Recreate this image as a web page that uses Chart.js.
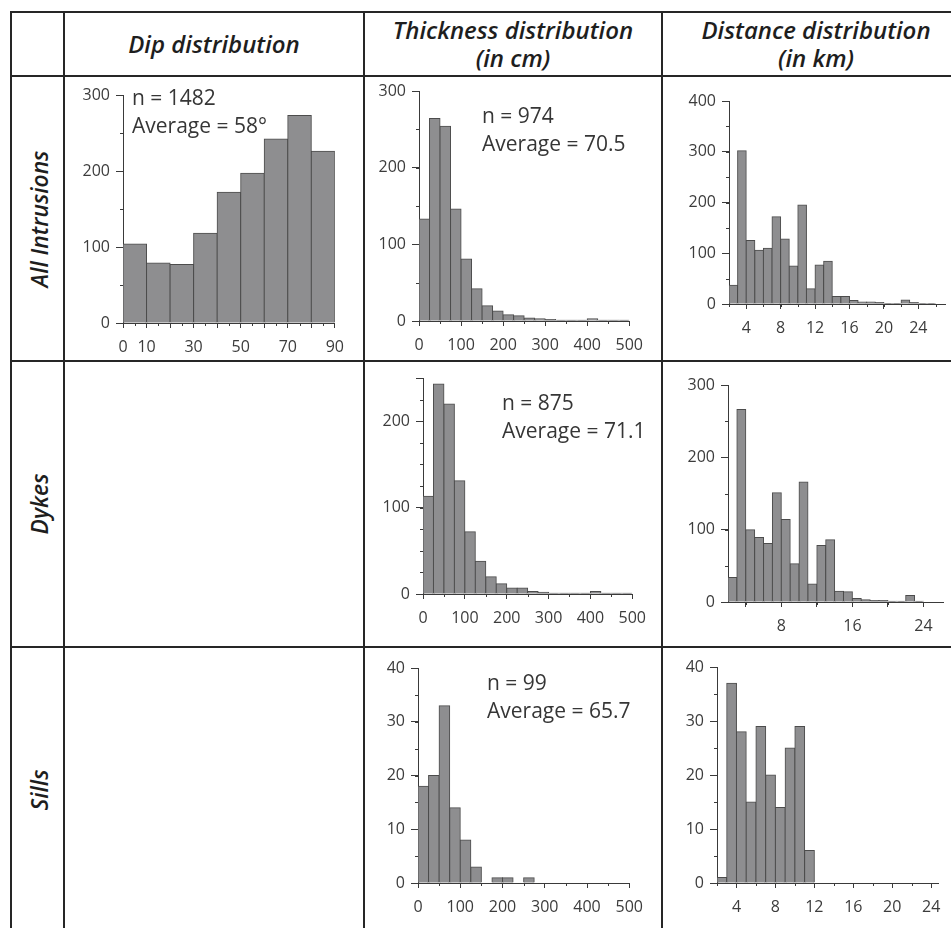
<!DOCTYPE html>
<html>
<head>
<meta charset="utf-8">
<title>Intrusion distributions</title>
<script src="https://cdn.jsdelivr.net/npm/chart.js@4.4.1/dist/chart.umd.min.js"></script>
<style>
  html, body { margin: 0; padding: 0; overflow: hidden; background: #fff; }
  #sheet { position: relative; width: 951px; height: 928px; overflow: hidden; font-family: "Open Sans", sans-serif; }
  .rule { position: absolute; background: #262626; }
  .head { position: absolute; display: flex; flex-direction: column; align-items: center; justify-content: center;
          font-style: italic; font-weight: 600; font-size: 24px; line-height: 28px; color: #1e1e1e; }
  .head span { display: block; white-space: nowrap; }
  .side { position: absolute; white-space: nowrap; font-style: italic; font-weight: 600; font-size: 24px; color: #1e1e1e;
          transform: translate(-50%, -50%) rotate(-90deg) scaleX(0.95); }
  .note { position: absolute; font-size: 21px; line-height: 29px; color: #363636; white-space: nowrap; }
  canvas { position: absolute; }
</style>
</head>
<body>
<div id="sheet"></div>
<script>
// column headers and row names
const HEADERS = [["Dip distribution"], ["Thickness distribution", "(in cm)"], ["Distance distribution", "(in km)"]];
const ROWS = ["All Intrusions", "Dykes", "Sills"];

// dip (degrees), 10 degree bins
const DIP_BINS = [0, 10, 20, 30, 40, 50, 60, 70, 80];
const DIP_ALL = [104, 79, 77, 118, 172, 197, 242, 273, 226];

// thickness (cm), 25 cm bins
const THICK_BINS = [0, 25, 50, 75, 100, 125, 150, 175, 200, 225, 250, 275, 300, 325, 350, 375, 400, 425, 450, 475];
const THICK_ALL   = [133, 264, 254, 146, 81, 42, 20, 13, 8, 7, 4, 3, 2, 1, 1, 1, 3, 1, 1, 1];
const THICK_DYKES = [113, 243, 220, 131, 72, 38, 20, 12, 7, 7, 3, 2, 1, 1, 1, 1, 3, 1, 1, 1];
const THICK_SILLS = [18, 20, 33, 14, 8, 3, 0, 1, 1, 0, 1, 0, 0, 0, 0, 0, 0, 0, 0, 0];

// distance (km), 1 km bins
const DIST_BINS = [2, 3, 4, 5, 6, 7, 8, 9, 10, 11, 12, 13, 14, 15, 16, 17, 18, 19, 20, 21, 22, 23, 24, 25];
const DIST_ALL   = [37, 302, 125, 106, 110, 172, 128, 75, 195, 30, 77, 84, 15, 15, 7, 4, 4, 3, 1, 1, 8, 3, 1, 1];
const DIST_DYKES = [34, 266, 100, 89, 81, 151, 114, 53, 166, 25, 78, 86, 15, 14, 5, 3, 2, 2, 1, 1, 9, 1, 0, 0];
const DIST_SILLS = [1, 37, 28, 15, 29, 20, 14, 25, 29, 6, 0, 0, 0, 0, 0, 0, 0, 0, 0, 0, 0, 0, 0, 0];

// tick labels shown on each x axis
const DIP_LABELS = [0, 10, 30, 50, 70, 90];
const THICK_LABELS = [0, 100, 200, 300, 400, 500];
const DIST_LABELS = [4, 8, 12, 16, 20, 24];
const DIST_LABELS_DYKES = [8, 16, 24];

const NOTES = {
  dipAll:     ["n = 1482", "Average = 58°"],
  thickAll:   ["n = 974", "Average = 70.5"],
  thickDykes: ["n = 875", "Average = 71.1"],
  thickSills: ["n = 99", "Average = 65.7"]
};

const COLS = [11, 64, 364, 662, 970];
const ROW_Y = [12, 76, 361, 647, 932];

const AXIS = "#3a3a3a";
const TEXT = "#3c3c3c";
const BAR_FILL = "#8e8e90";
const BAR_EDGE = "#4c4c4c";
const TICK_FONT = { family: "Open Sans", size: 16 };

const sheet = document.getElementById("sheet");

function box(cls, x, y, w, h) {
  const d = document.createElement("div");
  d.className = cls;
  Object.assign(d.style, { left: x + "px", top: y + "px" });
  if (w != null) d.style.width = w + "px";
  if (h != null) d.style.height = h + "px";
  sheet.appendChild(d);
  return d;
}

// table rules
COLS.forEach(x => box("rule", x - 1, ROW_Y[0] - 1, 2, 940));
ROW_Y.forEach(y => box("rule", COLS[0] - 1, y - 1, 970, 2));

HEADERS.forEach((lines, i) => {
  const h = box("head", COLS[i + 1], ROW_Y[0], COLS[i + 2] - COLS[i + 1], ROW_Y[1] - ROW_Y[0]);
  lines.forEach(t => { const s = document.createElement("span"); s.textContent = t; h.appendChild(s); });
});

ROWS.forEach((name, i) => {
  const d = box("side", (COLS[0] + COLS[1]) / 2, (ROW_Y[i + 1] + Math.min(ROW_Y[i + 2], 928)) / 2 + (i === 2 ? 2 : 0));
  d.textContent = name;
});

// short unlabelled ticks between the main ones
const minorTicks = {
  id: "minorTicks",
  afterDraw(chart, args, opts) {
    const { ctx } = chart;
    const xs = chart.scales.x, ys = chart.scales.y;
    ctx.save();
    ctx.strokeStyle = AXIS;
    ctx.lineWidth = 1;
    ctx.beginPath();
    if (opts.x) {
      for (let v = opts.x.from; v <= xs.max + 1e-9; v += opts.x.step) {
        const px = Math.round(xs.getPixelForValue(v)) + 0.5;
        ctx.moveTo(px, ys.bottom);
        ctx.lineTo(px, ys.bottom + 3);
      }
    }
    if (opts.y) {
      for (let v = 0; v <= ys.max + 1e-9; v += opts.y) {
        const py = Math.round(ys.getPixelForValue(v)) + 0.5;
        ctx.moveTo(xs.left, py);
        ctx.lineTo(xs.left - 3, py);
      }
    }
    ctx.stroke();
    ctx.restore();
  }
};

const panels = [
  { key: "dipAll", bins: DIP_BINS, binW: 10, counts: DIP_ALL, area: [123, 336, 95, 323],
    x: { min: 0, max: 90, step: 10, labels: DIP_LABELS, minor: { from: 5, step: 10 } }, y: { max: 300, step: 100, minor: 50 },
    note: [132, 97] },
  { key: "thickAll", bins: THICK_BINS, binW: 25, counts: THICK_ALL, area: [419, 635, 91, 321],
    x: { min: 0, max: 500, step: 100, labels: THICK_LABELS, minor: { from: 50, step: 100 } }, y: { max: 300, step: 100, minor: 50 },
    note: [482, 115] },
  { key: "distAll", bins: DIST_BINS, binW: 1, counts: DIST_ALL, area: [729, 945, 101, 304],
    x: { min: 2, max: 27.1, step: 4, labels: DIST_LABELS, minor: { from: 2, step: 2 } }, y: { max: 400, step: 100, minor: 50 } },
  { key: "thickDykes", bins: THICK_BINS, binW: 25, counts: THICK_DYKES, area: [423, 638, 378, 594],
    x: { min: 0, max: 500, step: 100, labels: THICK_LABELS, minor: { from: 50, step: 100 } }, y: { max: 250, step: 100, minor: 25 },
    note: [502, 402] },
  { key: "distDykes", bins: DIST_BINS, binW: 1, counts: DIST_DYKES, area: [728, 943, 385, 602],
    x: { min: 2, max: 26.2, step: 4, labels: DIST_LABELS_DYKES, minor: { from: 4, step: 4 } }, y: { max: 300, step: 100, minor: 50 } },
  { key: "thickSills", bins: THICK_BINS, binW: 25, counts: THICK_SILLS, area: [418, 635, 668, 883],
    x: { min: 0, max: 500, step: 100, labels: THICK_LABELS, minor: { from: 50, step: 100 } }, y: { max: 40, step: 10, minor: 5 },
    note: [487, 682] },
  { key: "distSills", bins: DIST_BINS, binW: 1, counts: DIST_SILLS, area: [717, 938, 667, 883],
    x: { min: 2, max: 24.7, step: 4, labels: DIST_LABELS, minor: { from: 2, step: 2 } }, y: { max: 40, step: 10, minor: 5 } }
];

function histogram(p) {
  const [l, r, t, b] = p.area;
  const padL = 60, padT = 20, padR = 18, padB = 44;
  const cv = document.createElement("canvas");
  cv.width = r - l + padL + padR;
  cv.height = b - t + padT + padB;
  cv.style.left = (l - padL) + "px";
  cv.style.top = (t - padT) + "px";
  sheet.appendChild(cv);

  new Chart(cv, {
    type: "bar",
    data: {
      datasets: [{
        data: p.bins.map((x0, i) => ({ x: x0 + p.binW / 2, y: p.counts[i] })),
        backgroundColor: BAR_FILL,
        borderColor: BAR_EDGE,
        borderWidth: 1,
        inflateAmount: 0.5,
        barPercentage: 1,
        categoryPercentage: 1
      }]
    },
    options: {
      responsive: false,
      animation: false,
      events: [],
      layout: { padding: { left: 0, top: padT, right: padR, bottom: 0 } },
      plugins: {
        legend: { display: false },
        tooltip: { enabled: false },
        minorTicks: { x: p.x.minor, y: p.y.minor }
      },
      scales: {
        x: {
          type: "linear",
          min: p.x.min,
          max: p.x.max,
          offset: false,
          afterFit: s => { s.height = padB; },
          border: { color: AXIS, width: 1 },
          grid: { offset: false, drawOnChartArea: false, tickLength: 5, tickColor: AXIS },
          ticks: {
            stepSize: p.x.step, includeBounds: false, autoSkip: false, maxRotation: 0,
            padding: 10, color: TEXT, font: TICK_FONT,
            callback: v => p.x.labels.includes(v) ? String(v) : ""
          }
        },
        y: {
          min: 0,
          max: p.y.max,
          afterFit: s => { s.width = padL; },
          border: { color: AXIS, width: 1 },
          grid: { drawOnChartArea: false, tickLength: 7, tickColor: AXIS },
          ticks: {
            stepSize: p.y.step, autoSkip: false, padding: 6, color: TEXT, font: TICK_FONT,
            callback: v => v % p.y.step === 0 ? String(v) : ""
          }
        }
      }
    },
    plugins: [minorTicks]
  });

  if (p.note) {
    NOTES[p.key].forEach((line, i) => {
      const d = box("note", p.note[0], p.note[1] - 14.5 + i * 28.5);
      d.textContent = line;
    });
  }
}

panels.forEach(histogram);
</script>
</body>
</html>
